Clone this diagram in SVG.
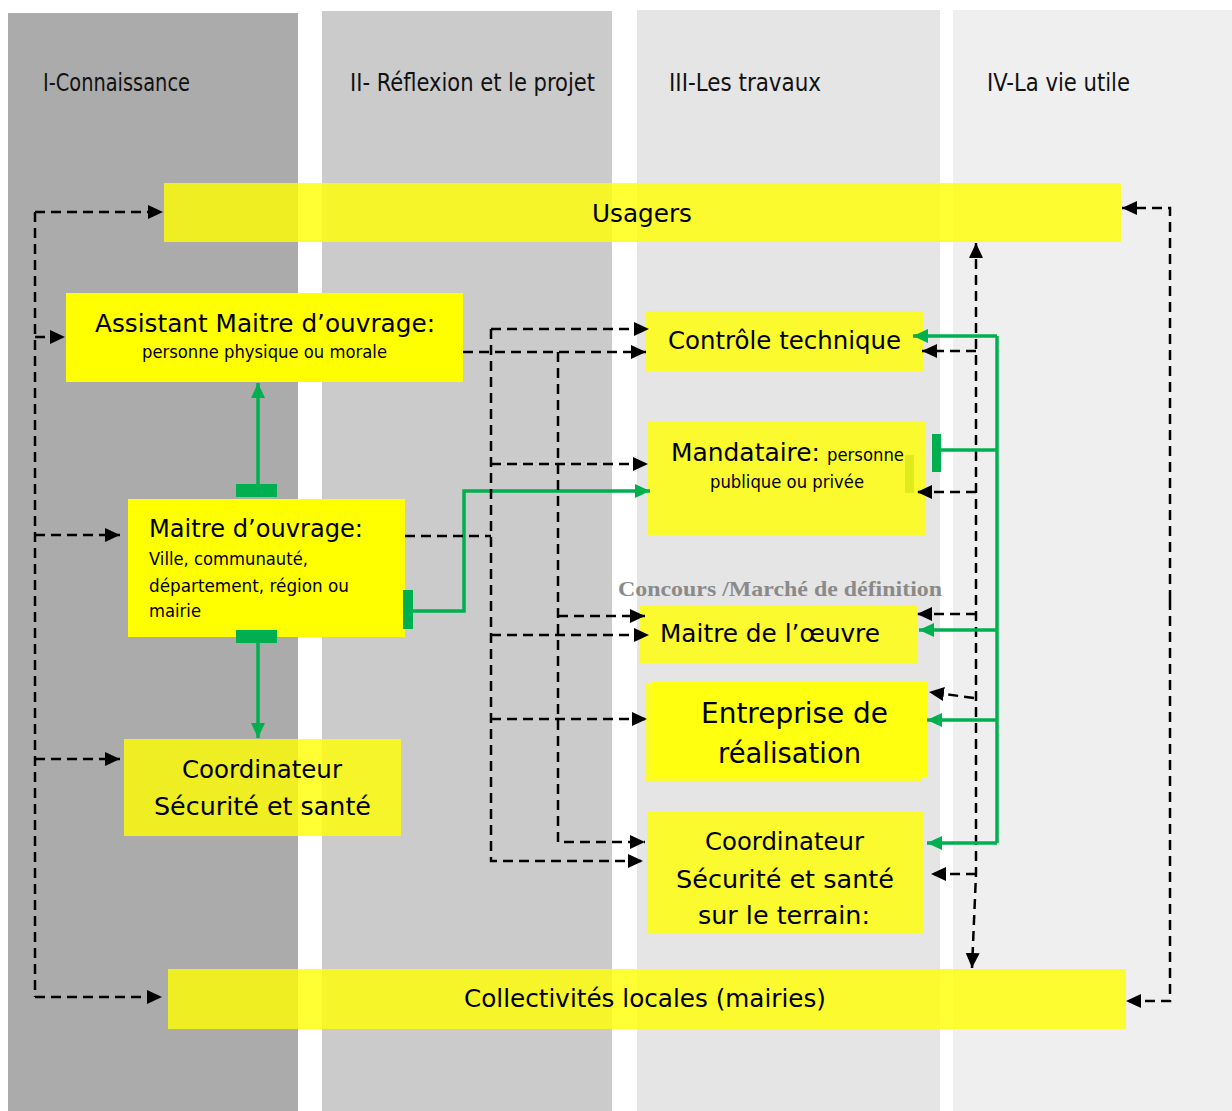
<svg xmlns="http://www.w3.org/2000/svg" width="1232" height="1111" viewBox="0 0 1232 1111">
  <defs>
    <marker id="ah" markerUnits="userSpaceOnUse" markerWidth="16" markerHeight="14" refX="15" refY="7" orient="auto-start-reverse">
      <path d="M0,0 L15,7 L0,14 Z" fill="#000"/>
    </marker>
    <marker id="ag" markerUnits="userSpaceOnUse" markerWidth="16" markerHeight="14" refX="15" refY="7" orient="auto">
      <path d="M0,0 L15,7 L0,14 Z" fill="#00b050"/>
    </marker>
    <style>
      .hdr { font-family: "DejaVu Sans Condensed", "DejaVu Sans", "Liberation Sans", sans-serif; font-size: 24px; fill: #111; }
      .t { font-family: "DejaVu Sans", "Liberation Sans", sans-serif; fill: #000; }
      .big { font-size: 24px; }
      .sm { font-size: 17px; }
      .box { fill: #ffff00; fill-opacity: 0.8; }
      .solid { fill: #ffff00; }
      .dash { fill: none; stroke: #000; stroke-width: 2.5; stroke-dasharray: 10 6; }
      .grn { fill: none; stroke: #00b050; stroke-width: 3.5; }
      .bar { fill: #00b050; }
    </style>
  </defs>

  <!-- phase columns -->
  <rect x="0" y="0" width="1232" height="1111" fill="#fff"/>
  <rect x="8" y="13" width="290" height="1098" fill="#ababab"/>
  <rect x="322" y="11" width="290" height="1100" fill="#cbcbcb"/>
  <rect x="637" y="10" width="303" height="1101" fill="#e5e5e5"/>
  <rect x="953" y="10" width="279" height="1101" fill="#efefef"/>

  <text class="hdr" x="43" y="91" textLength="147" lengthAdjust="spacingAndGlyphs">I-Connaissance</text>
  <text class="hdr" x="350" y="91" textLength="245" lengthAdjust="spacingAndGlyphs">II- Réflexion et le projet</text>
  <text class="hdr" x="669" y="91" textLength="152" lengthAdjust="spacingAndGlyphs">III-Les travaux</text>
  <text class="hdr" x="987" y="91" textLength="143" lengthAdjust="spacingAndGlyphs">IV-La vie utile</text>

  <!-- nodes -->
  <g id="usagers">
    <rect class="box" x="164" y="183" width="957" height="59"/>
    <text class="t big" x="592" y="222" textLength="100" lengthAdjust="spacingAndGlyphs">Usagers</text>
  </g>

  <g id="assistant-maitre-ouvrage">
    <rect class="solid" x="66" y="293" width="397" height="89"/>
    <text class="t big" x="95" y="332" textLength="340" lengthAdjust="spacingAndGlyphs">Assistant Maitre d’ouvrage:</text>
    <text class="t sm" x="142" y="358" textLength="245" lengthAdjust="spacingAndGlyphs">personne physique ou morale</text>
  </g>

  <g id="maitre-ouvrage">
    <rect class="solid" x="128" y="499" width="277" height="138"/>
    <text class="t big" x="149" y="537" textLength="214" lengthAdjust="spacingAndGlyphs">Maitre d’ouvrage:</text>
    <text class="t sm" x="149" y="565" textLength="159" lengthAdjust="spacingAndGlyphs">Ville, communauté,</text>
    <text class="t sm" x="149" y="592" textLength="200" lengthAdjust="spacingAndGlyphs">département, région ou</text>
    <text class="t sm" x="149" y="617" textLength="52" lengthAdjust="spacingAndGlyphs">mairie</text>
  </g>

  <g id="coordinateur-sps">
    <rect class="box" x="124" y="739" width="277" height="97"/>
    <text class="t big" x="182" y="778" textLength="160" lengthAdjust="spacingAndGlyphs">Coordinateur</text>
    <text class="t big" x="154" y="815" textLength="217" lengthAdjust="spacingAndGlyphs">Sécurité et santé</text>
  </g>

  <g id="collectivites">
    <rect class="box" x="168" y="969" width="958" height="60"/>
    <text class="t big" x="464" y="1007" textLength="362" lengthAdjust="spacingAndGlyphs">Collectivités locales (mairies)</text>
  </g>

  <g id="controle-technique">
    <rect class="box" x="646" y="311" width="277" height="60"/>
    <text class="t big" x="668" y="349" textLength="233" lengthAdjust="spacingAndGlyphs">Contrôle technique</text>
  </g>

  <g id="mandataire">
    <rect class="box" x="648" y="422" width="277" height="113"/>
    <rect x="905" y="455" width="9" height="38" fill="#dfeb1c"/>
    <text class="t big" x="671" y="461" textLength="149" lengthAdjust="spacingAndGlyphs">Mandataire:</text>
    <text class="t sm" x="827" y="461" textLength="77" lengthAdjust="spacingAndGlyphs">personne</text>
    <text class="t sm" x="710" y="488" textLength="154" lengthAdjust="spacingAndGlyphs">publique ou privée</text>
  </g>

  <g id="maitre-oeuvre">
    <text x="618" y="596" font-family="Liberation Serif, serif" font-weight="bold" font-size="21" fill="#8a8a8a" textLength="324" lengthAdjust="spacingAndGlyphs">Concours /Marché de définition</text>
    <rect class="box" x="639" y="605" width="278" height="58"/>
    <text class="t big" x="660" y="642" textLength="220" lengthAdjust="spacingAndGlyphs">Maitre de l’œuvre</text>
  </g>

  <g id="entreprise">
    <rect class="box" x="646" y="684" width="276" height="98"/>
    <rect x="651" y="682" width="277" height="95" fill="#ffff10"/>
    <text class="t" font-size="28" x="701" y="723" textLength="187" lengthAdjust="spacingAndGlyphs">Entreprise de</text>
    <text class="t" font-size="28" x="718" y="763" textLength="143" lengthAdjust="spacingAndGlyphs">réalisation</text>
  </g>

  <g id="coordinateur-terrain">
    <rect class="box" x="647" y="812" width="276" height="122"/>
    <text class="t big" x="705" y="850" textLength="159" lengthAdjust="spacingAndGlyphs">Coordinateur</text>
    <text class="t big" x="676" y="888" textLength="218" lengthAdjust="spacingAndGlyphs">Sécurité et santé</text>
    <text class="t big" x="698" y="924" textLength="172" lengthAdjust="spacingAndGlyphs">sur le terrain:</text>
  </g>

  <!-- connectors -->
  <g id="connectors">
    <!-- left information trunk -->
    <path class="dash" d="M35,212 V997"/>
    <path class="dash" d="M35,212 H163" marker-end="url(#ah)"/>
    <path class="dash" d="M35,337 H65" marker-end="url(#ah)"/>
    <path class="dash" d="M35,535 H120" marker-end="url(#ah)"/>
    <path class="dash" d="M35,759 H120" marker-end="url(#ah)"/>
    <path class="dash" d="M35,997 H162" marker-end="url(#ah)"/>

    <!-- right loop between usagers and collectivités -->
    <path class="dash" d="M1170,600 V208 H1122" marker-end="url(#ah)"/>
    <path class="dash" d="M1170,600 V1001 H1126" marker-end="url(#ah)"/>

    <!-- vertical double arrow, vie utile -->
    <path class="dash" d="M976,243 V874 L972,968" marker-start="url(#ah)" marker-end="url(#ah)"/>
    <path class="dash" d="M976,351 H922" marker-end="url(#ah)"/>
    <path class="dash" d="M976,492 H917" marker-end="url(#ah)"/>
    <path class="dash" d="M976,614 H917" marker-end="url(#ah)"/>
    <path class="dash" d="M974,698 L929,692" marker-end="url(#ah)"/>
    <path class="dash" d="M976,874 H931" marker-end="url(#ah)"/>

    <!-- green trunk on the right -->
    <path class="grn" d="M997,336 V843"/>
    <path class="grn" d="M997,336 H913" marker-end="url(#ag)"/>
    <path class="grn" d="M997,450 H941"/>
    <rect class="bar" x="932" y="434" width="9" height="38"/>
    <path class="grn" d="M997,630 H919" marker-end="url(#ag)"/>
    <path class="grn" d="M997,720 H927" marker-end="url(#ag)"/>
    <path class="grn" d="M997,843 H927" marker-end="url(#ag)"/>

    <!-- green links from maitre d'ouvrage -->
    <rect class="bar" x="403" y="590" width="10" height="39"/>
    <path class="grn" d="M413,611 H464 V491 H650" marker-end="url(#ag)"/>
    <rect class="bar" x="236" y="484" width="41" height="13"/>
    <path class="grn" d="M258,484 V383" marker-end="url(#ag)"/>
    <rect class="bar" x="236" y="630" width="41" height="13"/>
    <path class="grn" d="M258,643 V738" marker-end="url(#ag)"/>

    <!-- dashed network, réflexion et projet -->
    <path class="dash" d="M463,352 H646" marker-end="url(#ah)"/>
    <path class="dash" d="M491,329 H649" marker-end="url(#ah)"/>
    <path class="dash" d="M491,329 V861 H643" marker-end="url(#ah)"/>
    <path class="dash" d="M405,536 H491"/>
    <path class="dash" d="M491,464 H648" marker-end="url(#ah)"/>
    <path class="dash" d="M491,635 H649" marker-end="url(#ah)"/>
    <path class="dash" d="M491,719 H647" marker-end="url(#ah)"/>
    <path class="dash" d="M558,352 V842 H645" marker-end="url(#ah)"/>
    <path class="dash" d="M558,616 H645" marker-end="url(#ah)"/>
  </g>
</svg>
